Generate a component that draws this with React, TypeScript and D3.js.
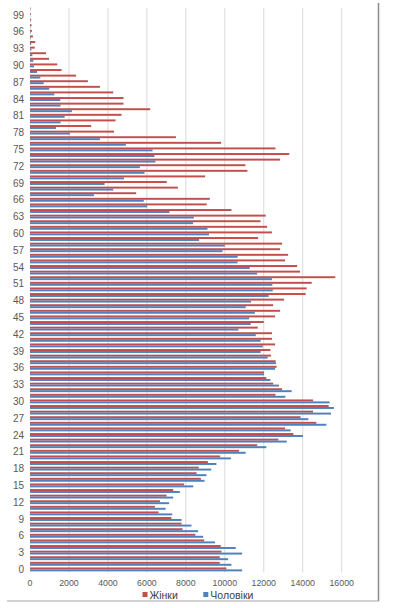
import React, { useEffect, useRef } from 'react';
import * as d3 from 'd3';

// ages 0..100, values
const ages = d3.range(0, 101);

const women = [
  10080, 9740, 9740, 9830, 9790, 8940, 8490, 7830, 7780, 7260,
  6600, 6410, 6670, 7010, 7350, 7910, 8770, 8550, 8660, 9130,
  9760, 10730, 11660, 12750, 13520, 13090, 14700, 13890, 14530, 15330,
  14530, 12600, 12940, 12480, 12130, 12010, 12660, 12610, 12370, 12340,
  12580, 12420, 12420, 11690, 12000, 12580, 12840, 12480, 13040, 14150,
  14200, 14460, 15670, 13860, 13710, 13090, 13250, 12840, 12940, 11710,
  12420, 12170, 11830, 12100, 10340, 9070, 9230, 5450, 7590, 7020,
  8990, 11160, 11060, 12840, 13310, 12600, 9810, 7490, 4310, 3140,
  4390, 4700, 6170, 4800, 4800, 4270, 3590, 2970, 2360, 1620,
  1400, 975, 820, 240, 270, 150, 100, 80, 60, 40,
  30,
];

const men = [
  10890, 10340, 10170, 10890, 10560, 9490, 8890, 8630, 8290, 7780,
  7300, 6960, 7140, 7350, 7690, 8380, 8960, 9060, 9300, 9570,
  10310, 11070, 12130, 13180, 14010, 13380, 15210, 14290, 15450, 15600,
  15380, 13110, 13430, 12780, 12340, 12010, 12580, 12630, 12200, 11840,
  11950, 11840, 11590, 10700, 11330, 11250, 11540, 11070, 11350, 12250,
  12460, 12440, 12420, 11660, 11280, 10650, 10660, 9880, 10000, 8680,
  9190, 9110, 8370, 8410, 7160, 6010, 5840, 3280, 4270, 3830,
  4820, 5880, 5640, 6440, 6390, 6290, 4920, 3590, 2050, 1330,
  1570, 1780, 2150, 1570, 1555, 1250, 990, 700, 530, 360,
  205, 170, 120, 70, 60, 40, 30, 25, 20, 15,
  10,
];

const xTicks = [0, 2000, 4000, 6000, 8000, 10000, 12000, 14000, 16000];
const yTicks = d3.range(0, 100, 3);

const seriesNames = ['Жінки', 'Чоловіки'];
const colors = ['#c0504d', '#4f81bd'];

const App = () => {
  const ref = useRef(null);

  useEffect(() => {
    const width = 393;
    const height = 608;
    const svg = d3.select(ref.current).attr('width', width).attr('height', height);
    svg.selectAll('*').remove();

    const x = d3.scaleLinear().domain([0, 16000]).range([30, 341.7]);
    const y = d3.scaleBand()
      .domain(ages.slice().reverse().map(String))
      .range([6.6, 572.2])
      .paddingInner(0.3)
      .paddingOuter(0.15);
    const sub = d3.scaleBand().domain(['0', '1']).range([0, y.bandwidth()]);

    // gridlines
    svg.append('g').selectAll('line')
      .data(xTicks.slice(1))
      .enter()
      .append('line')
      .attr('x1', d => x(d)).attr('x2', d => x(d))
      .attr('y1', 8).attr('y2', 572.5)
      .attr('stroke', '#d9d9d9')
      .attr('stroke-width', 1);

    const rows = ages.map((a, i) => ({ age: a, vals: [women[i], men[i]] }));

    const g = svg.append('g');
    [0, 1].forEach(s => {
      g.selectAll('rect.s' + s)
        .data(rows)
        .enter()
        .append('rect')
        .attr('class', 's' + s)
        .attr('x', x(0))
        .attr('y', d => y(String(d.age)) + sub(String(s)))
        .attr('width', d => x(d.vals[s]) - x(0))
        .attr('height', sub.bandwidth())
        .attr('fill', colors[s]);
    });

    // y labels
    svg.append('g').selectAll('text')
      .data(yTicks)
      .enter()
      .append('text')
      .text(d => d)
      .attr('x', 24)
      .attr('y', d => y(String(d)) + y.bandwidth() / 2 + 3.5)
      .attr('text-anchor', 'end')
      .attr('fill', '#595959')
      .style('font-family', '"Liberation Sans", Arial, sans-serif')
      .style('font-size', '10px');

    // x labels
    svg.append('g').selectAll('text')
      .data(xTicks)
      .enter()
      .append('text')
      .text(d => d)
      .attr('x', d => x(d))
      .attr('y', 586)
      .attr('text-anchor', 'middle')
      .attr('fill', '#595959')
      .style('font-family', '"Liberation Sans", Arial, sans-serif')
      .style('font-size', '8.8px');

    // legend
    const legendX = [142.5, 203.3];
    seriesNames.forEach((name, i) => {
      svg.append('rect')
        .attr('x', legendX[i]).attr('y', 592)
        .attr('width', 5).attr('height', 5)
        .attr('fill', colors[i]);
      svg.append('text')
        .text(name)
        .attr('x', legendX[i] + 7)
        .attr('y', 599)
        .attr('fill', '#404040')
        .style('font-family', '"Liberation Sans", Arial, sans-serif')
        .style('font-size', '10.5px');
    });

    // frame (right and bottom edges)
    svg.append('line')
      .attr('x1', 378.5).attr('x2', 378.5).attr('y1', 3).attr('y2', 601)
      .attr('stroke', '#8c8c8c').attr('stroke-width', 1.5);
    svg.append('line')
      .attr('x1', 7).attr('x2', 379).attr('y1', 601).attr('y2', 601)
      .attr('stroke', '#a6a6a6').attr('stroke-width', 1.2);
  }, []);

  return (
    <div style={{ position: 'absolute', left: 0, top: 0, background: '#fff' }}>
      <svg ref={ref} style={{ display: 'block' }}></svg>
    </div>
  );
};

export default App;
